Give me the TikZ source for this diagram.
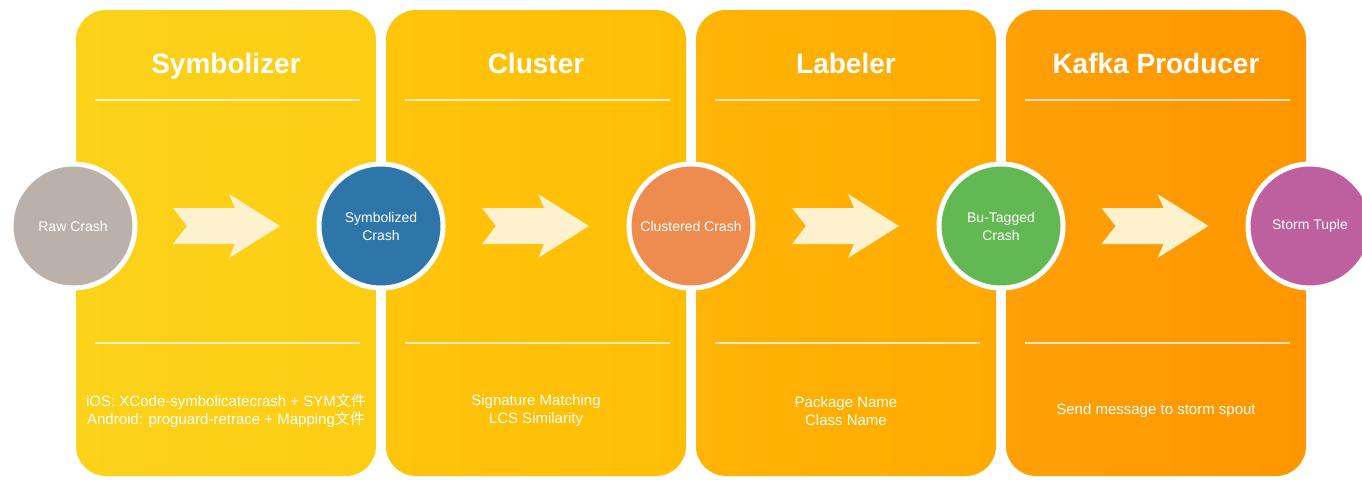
\documentclass[tikz,border=0pt]{standalone}
\usepackage{fontspec}
\setmainfont{Liberation Sans}
\newfontfamily\cjk{Noto Sans CJK SC}
\usetikzlibrary{calc}

\definecolor{symbolizerL}{RGB}{252,210,26}
\definecolor{symbolizerR}{RGB}{253,205,20}
\definecolor{clusterL}{RGB}{255,196,12}
\definecolor{clusterR}{RGB}{255,190,4}
\definecolor{labelerL}{RGB}{255,180,6}
\definecolor{labelerR}{RGB}{255,170,0}
\definecolor{kafkaL}{RGB}{255,160,8}
\definecolor{kafkaR}{RGB}{255,150,0}
\definecolor{rawGrey}{RGB}{186,177,171}
\definecolor{symBlue}{RGB}{46,117,170}
\definecolor{cluOrange}{RGB}{238,140,80}
\definecolor{bugGreen}{RGB}{98,184,82}
\definecolor{stormPurple}{RGB}{190,95,160}
\definecolor{flowCream}{RGB}{253,242,205}

\begin{document}
\begin{tikzpicture}[x=1pt,y=1pt,yscale=-1,xscale=1,
  panel/.style={rounded corners=30pt},
  rule/.style={draw=white,draw opacity=0.7,line width=1.8pt},
  title/.style={anchor=base,text=white,font=\bfseries\fontsize{28}{32}\selectfont},
  note/.style={text=white,align=center,font=\fontsize{15}{18}\selectfont},
  stage/.style={circle,draw=white,line width=5pt,minimum size=124pt,inner sep=0pt,
    text=white,align=center,font=\fontsize{14}{18}\selectfont},
  flowarrow/.pic={
    \fill[flowCream] (-54,-18) -- (8,-18) -- (2,-32) -- (53,0) -- (2,32) -- (8,18)
      -- (-54,18) -- (-40,0) -- cycle;}]
\useasboundingbox (0,0) rectangle (1362,479);

%Panels with their rules
\foreach \x/\cl/\cr in {76/symbolizerL/symbolizerR,386/clusterL/clusterR,696/labelerL/labelerR,1006/kafkaL/kafkaR}{
  \shade[panel,left color=\cl,right color=\cr] (\x,10) rectangle ++(300,466);
  \draw[rule] (\x+19,100) -- (\x+284,100);
  \draw[rule] (\x+19,343) -- (\x+284,343);
}

% Titles
\node[title] (tsym) at (226,73) {Symbolizer};
\node[title] (tclu) at (536,73) {Cluster};
\node[title] (tlab) at (846,73) {Labeler};
\node[title] (tkaf) at (1156,73) {Kafka Producer};

% Stages
\node[stage,fill=rawGrey] (raw) at (73,226) {Raw Crash};
\node[stage,fill=symBlue] (sym) at (381,226) {Symbolized\\Crash};
\node[stage,fill=cluOrange] (clu) at (691,226) {Clustered Crash};
\node[stage,fill=bugGreen] (bug) at (1001,226) {Bu-Tagged\\Crash};
\node[stage,fill=stormPurple] (storm) at (1310,226) {Storm Tuple};

% Flow arrows
\foreach \a/\b in {raw/sym,sym/clu,clu/bug,bug/storm}
  \pic at ($(\a)!0.5!(\b)$) {flowarrow};

% Notes
\node[note] (nsym) at (226,411) {iOS: XCode-symbolicatecrash + SYM{\cjk 文件}\\Android: proguard-retrace + Mapping{\cjk 文件}};
\node[note] (nclu) at (536,411) {Signature Matching\\LCS Similarity};
\node[note] (nlab) at (846,411) {Package Name\\Class Name};
\node[note] (nkaf) at (1156,411) {Send message to storm spout};

\end{tikzpicture}
\end{document}
